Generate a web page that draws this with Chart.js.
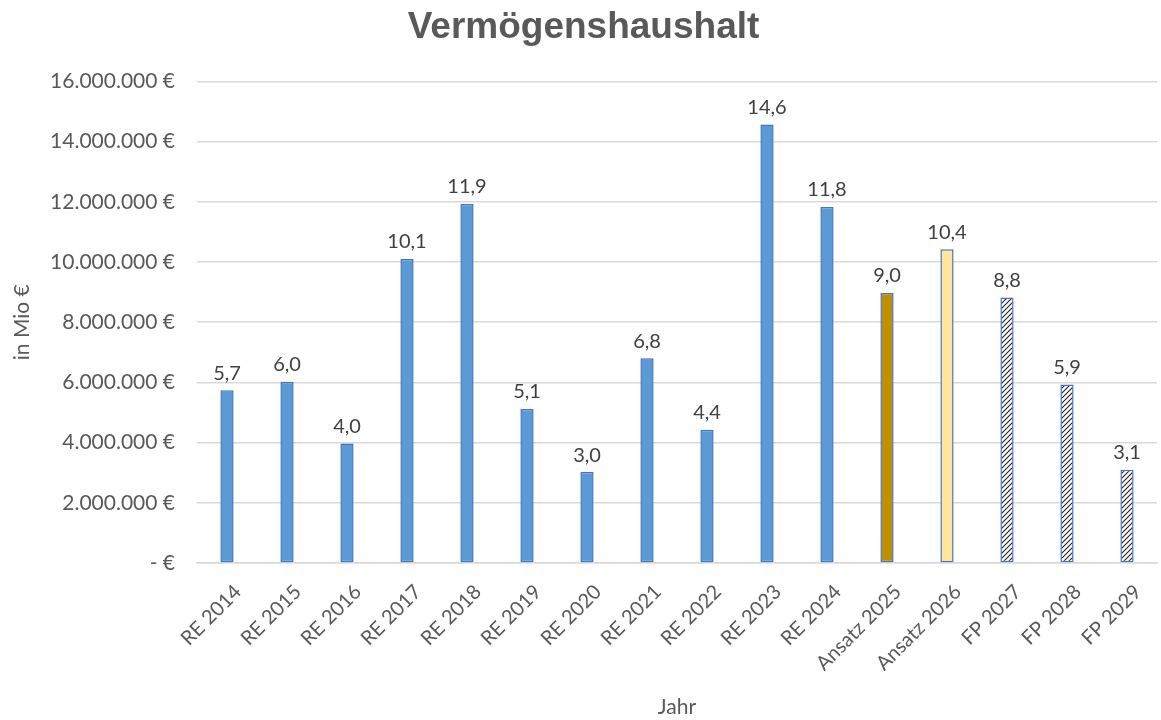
<!DOCTYPE html>
<html>
<head>
<meta charset="utf-8">
<script src="https://cdn.jsdelivr.net/npm/chart.js@4"></script>
<style>
  html, body { margin: 0; padding: 0; background: #fff; }
  #wrap { width: 1161px; height: 720px; }
</style>
</head>
<body>
<div id="wrap"><canvas id="myChart" width="1161" height="720"></canvas></div>
<script>
var labels = ["RE 2014", "RE 2015", "RE 2016", "RE 2017", "RE 2018", "RE 2019", "RE 2020", "RE 2021",
    "RE 2022", "RE 2023", "RE 2024", "Ansatz 2025", "Ansatz 2026", "FP 2027", "FP 2028", "FP 2029"];
var values = [5740000, 6020000, 3970000, 10100000, 11930000, 5120000, 3020000, 6800000,
    4430000, 14570000, 11830000, 8970000, 10420000, 8820000, 5930000, 3100000];
var yTicks = [0, 2000000, 4000000, 6000000, 8000000, 10000000, 12000000, 14000000, 16000000];

var FONT = "Lato, 'Open Sans', sans-serif";

function hatch() {
    var c = document.createElement("canvas");
    c.width = 5; c.height = 5;
    var g = c.getContext("2d");
    g.fillStyle = "#fff";
    g.fillRect(0, 0, 5, 5);
    g.strokeStyle = "#222";
    g.lineWidth = 1.1;
    g.beginPath();
    g.moveTo(0, 5); g.lineTo(5, 0);
    g.moveTo(-1, 1); g.lineTo(1, -1);
    g.moveTo(4, 6); g.lineTo(6, 4);
    g.stroke();
    return g.createPattern(c, "repeat");
}

var ctx = document.getElementById("myChart").getContext("2d");
var stripes = hatch();

var fills = labels.map(function (l) {
    if (l === "Ansatz 2025") return "#BF9000";
    if (l === "Ansatz 2026") return "#FFE699";
    if (l.indexOf("FP") === 0) return stripes;
    return "#5B9BD5";
});

var valueLabels = {
    id: "valueLabels",
    afterDatasetsDraw: function (chart) {
        var c = chart.ctx;
        var meta = chart.getDatasetMeta(0);
        c.save();
        c.font = "20px " + FONT;
        c.fillStyle = "#404040";
        c.textAlign = "center";
        c.textBaseline = "bottom";
        meta.data.forEach(function (bar, i) {
            var txt = (values[i] / 1000000).toFixed(1).replace(".", ",");
            c.fillText(txt, bar.x, bar.y - 7);
        });
        c.restore();
    }
};

new Chart(ctx, {
    type: "bar",
    data: {
        labels: labels,
        datasets: [{
            data: values,
            backgroundColor: fills,
            borderColor: "#4472C4",
            borderWidth: 1.5,
            borderSkipped: false,
            barPercentage: 0.22,
            categoryPercentage: 1
        }]
    },
    plugins: [valueLabels],
    options: {
        responsive: false,
        animation: false,
        layout: { padding: { left: 10, right: 4, top: 0, bottom: 0 } },
        plugins: {
            legend: { display: false },
            tooltip: { enabled: false },
            title: {
                display: true,
                text: "Vermögenshaushalt",
                color: "#595959",
                font: { family: "'Liberation Sans', Arial, sans-serif", size: 37, weight: "bold" },
                padding: { top: 6, bottom: 31 }
            }
        },
        scales: {
            x: {
                grid: { display: false },
                border: { color: "#D9D9D9", width: 1.5 },
                ticks: {
                    color: "#595959",
                    font: { family: FONT, size: 20 },
                    minRotation: 45,
                    maxRotation: 45,
                    autoSkip: false,
                    labelOffset: 11,
                    padding: 9
                },
                title: {
                    display: true,
                    text: "Jahr",
                    color: "#595959",
                    font: { family: FONT, size: 21 },
                    padding: { top: 0, bottom: 0 }
                },
                afterFit: function (s) { s.height = 157; }
            },
            y: {
                min: 0,
                max: 16000000,
                afterBuildTicks: function (s) {
                    s.ticks = yTicks.map(function (v) { return { value: v }; });
                },
                grid: { color: "#D9D9D9", lineWidth: 1.5, drawTicks: false },
                border: { display: false },
                ticks: {
                    color: "#595959",
                    font: { family: FONT, size: 21 },
                    padding: 22,
                    callback: function (v) {
                        if (v === 0) return "- €";
                        return v.toLocaleString("de-DE") + " €";
                    }
                },
                title: {
                    display: true,
                    text: "in Mio €",
                    color: "#595959",
                    font: { family: FONT, size: 21 },
                    padding: { top: 0, bottom: 8 }
                },
                afterFit: function (s) { s.width = 187; }
            }
        }
    }
});
</script>
</body>
</html>
